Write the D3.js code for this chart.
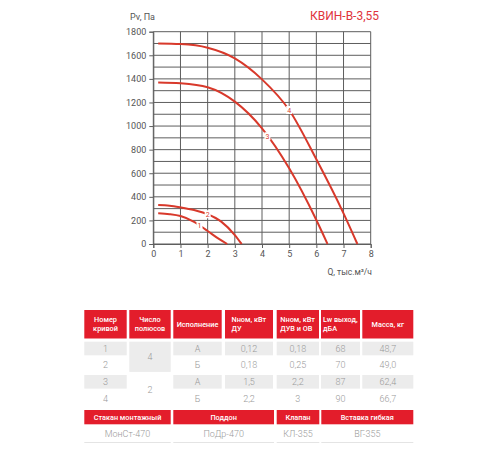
<!DOCTYPE html>
<html><head><meta charset="utf-8">
<script src="https://cdn.jsdelivr.net/npm/d3@7"></script>
<style>body{margin:0;background:#fff}svg{display:block;font-family:Roboto,"Noto Sans",sans-serif}</style>
</head><body><svg id="c" width="500" height="450"></svg>
<script>
// ---- data ----
const curveNames = ["1","2","3","4"];
const curve1 = [[0.18,260],[0.6,253],[1,237],[1.5,188],[2,110],[2.4,45],[2.72,0]];
const curve2 = [[0.18,330],[0.6,325],[1,311],[1.5,288],[2,252],[2.5,190],[3,76],[3.25,0]];
const curve3 = [[0.18,1370],[1,1363],[2,1329],[3,1207],[4,981],[5,642],[6,203],[6.41,0]];
const curve4 = [[0.18,1700],[1,1695],[2,1664],[3,1574],[4,1396],[5,1136],[6,718],[7,260],[7.51,0]];
const labelQ = [1.7, 2.0, 4.2, 5.0];
const xTicks = [0,1,2,3,4,5,6,7,8];
const yTicks = [0,200,400,600,800,1000,1200,1400,1600,1800];
const title = "КВИН-В-3,55";
const yTitle = "Pv, Па";
const xTitle = "Q, тыс.м³/ч";

const headers = ["Номер\nкривой","Число\nполюсов","Исполнение","Nном, кВт\nДУ","Nном, кВт\nДУВ и ОВ","Lw выход,\nдБА","Масса, кг"];
const colCurve = ["1","2","3","4"];
const colPoles = ["4","2"];
const colExec = ["А","Б","А","Б"];
const colNdu = ["0,12","0,18","1,5","2,2"];
const colNduv = ["0,18","0,25","2,2","3"];
const colLw = ["68","70","87","90"];
const colMass = ["48,7","49,0","62,4","66,7"];
const accHeaders = ["Стакан монтажный","Поддон","Клапан","Вставка гибкая"];
const accValues = ["МонСт-470","ПоДр-470","КЛ-355","ВГ-355"];

// ---- chart ----
const svg = d3.select("#c");
const red = "#d8392b";
const x = d3.scaleLinear().domain([0,8]).range([153.3,370.7]);
const y = d3.scaleLinear().domain([0,1800]).range([244,31.7]);
const gridC = "#5e5e5e";

const g = svg.append("g");
g.selectAll(".hg").data(d3.range(0,1801,100)).join("line")
  .attr("x1",x(0)).attr("x2",x(8)).attr("y1",d=>y(d)).attr("y2",d=>y(d))
  .attr("stroke",gridC).attr("stroke-width",1);
g.selectAll(".vg").data(xTicks).join("line")
  .attr("x1",d=>x(d)).attr("x2",d=>x(d)).attr("y1",y(0)).attr("y2",y(1800))
  .attr("stroke",gridC).attr("stroke-width",1);

const xa = svg.append("g").attr("transform",`translate(0,${y(0)})`)
  .call(d3.axisBottom(x).tickValues(xTicks).tickSize(4).tickPadding(3).tickFormat(d3.format("d")));
const ya = svg.append("g").attr("transform",`translate(${x(0)},0)`)
  .call(d3.axisLeft(y).tickValues(yTicks).tickSize(4).tickPadding(3).tickFormat(d3.format("d")));
[xa,ya].forEach(a=>{
  a.select(".domain").attr("stroke",gridC);
  a.selectAll(".tick line").attr("stroke",gridC);
  a.selectAll("text").attr("fill","#555").attr("font-size",9).attr("font-family","'Liberation Sans Narrow',Roboto,sans-serif");
});

const line = d3.line().x(d=>x(d[0])).y(d=>y(d[1])).curve(d3.curveMonotoneX);
const curves = [curve1,curve2,curve3,curve4];
svg.selectAll(".crv").data(curves).join("path")
  .attr("d",line).attr("fill","none").attr("stroke",red).attr("stroke-width",2);

function interp(c,q){
  for(let i=0;i<c.length-1;i++){
    if(q>=c[i][0]&&q<=c[i+1][0]){const t=(q-c[i][0])/(c[i+1][0]-c[i][0]);return c[i][1]+t*(c[i+1][1]-c[i][1]);}
  }
  return c[c.length-1][1];
}
curves.forEach((c,i)=>{
  const px=x(labelQ[i]), py=y(interp(c,labelQ[i]));
  svg.append("rect").attr("x",px-3).attr("y",py-4).attr("width",6).attr("height",8).attr("fill","#fff");
  svg.append("text").attr("x",px).attr("y",py+2.5).attr("text-anchor","middle")
    .attr("font-size",7).attr("fill",red).text(curveNames[i]);
});

svg.append("text").attr("x",130).attr("y",20).attr("font-size",9).attr("fill","#555")
  .attr("font-family","'Liberation Sans Narrow',Roboto,sans-serif").text(yTitle);
svg.append("text").attr("x",372).attr("y",275).attr("text-anchor","end").attr("font-size",8.5).attr("fill","#555")
  .attr("font-family","'Liberation Sans Narrow',Roboto,sans-serif").text(xTitle);
svg.append("text").attr("x",310).attr("y",20).attr("font-size",12).attr("fill","#e0343c").text(title);

// ---- table ----
const tRed = "#e31d2b", tGrey = "#ececec", tText = "#999999";
const cols = [[84.3,126.7],[129.3,170.7],[173.3,221.7],[225,273],[276.7,319],[321,360],[362.3,413.3]];
const hTop=310, hBot=338.5;
cols.forEach((c,i)=>{
  svg.append("rect").attr("x",c[0]).attr("y",hTop).attr("width",c[1]-c[0]).attr("height",hBot-hTop).attr("fill",tRed);
  const lines = headers[i].split("\n");
  const left = (i===3||i===4||i===5);
  const t = svg.append("text").attr("fill","#fff").attr("font-size",7.3).attr("font-weight",500)
    .attr("text-anchor", left?"start":"middle");
  const cx=(c[0]+c[1])/2;
  const cy=(hTop+hBot)/2;
  lines.forEach((l,k)=>{
    t.append("tspan").attr("x",cx).attr("y",cy+2.5+(k-(lines.length-1)/2)*9).text(l);
  });
  if(left){
    const w = t.node().getBBox().width;
    t.selectAll("tspan").attr("x",cx-w/2);
  }
});
const rowTop = [341.7,358.3,375,391.6];
const rowH = 13.6;
const body = [colCurve,null,colExec,colNdu,colNduv,colLw,colMass];
body.forEach((col,ci)=>{
  const c=cols[ci];
  if(col===null){
    colPoles.forEach((v,k)=>{
      const top=rowTop[k*2], bot=rowTop[k*2+1]+rowH;
      if(k===0) svg.append("rect").attr("x",c[0]).attr("y",top).attr("width",c[1]-c[0]).attr("height",bot-top).attr("fill",tGrey);
      svg.append("text").attr("x",(c[0]+c[1])/2).attr("y",(top+bot)/2+3.3).attr("text-anchor","middle")
        .attr("font-size",9).attr("font-weight",300).attr("fill",tText).text(v);
    });
    return;
  }
  col.forEach((v,r)=>{
    if(r%2===0) svg.append("rect").attr("x",c[0]).attr("y",rowTop[r]).attr("width",c[1]-c[0]).attr("height",rowH).attr("fill",tGrey);
    svg.append("text").attr("x",(c[0]+c[1])/2).attr("y",rowTop[r]+rowH/2+3.3).attr("text-anchor","middle")
      .attr("font-size",9).attr("font-weight",300).attr("fill",tText).text(v);
  });
});

const acols = [[84.3,170.7],[173.3,274],[276.7,319.3],[321.3,413.3]];
acols.forEach((c,i)=>{
  svg.append("rect").attr("x",c[0]).attr("y",410).attr("width",c[1]-c[0]).attr("height",14.3).attr("fill",tRed);
  svg.append("text").attr("x",(c[0]+c[1])/2).attr("y",420).attr("text-anchor","middle")
    .attr("fill","#fff").attr("font-size",7.3).attr("font-weight",500).text(accHeaders[i]);
  svg.append("text").attr("x",(c[0]+c[1])/2).attr("y",436.5).attr("text-anchor","middle")
    .attr("fill",tText).attr("font-size",9).attr("font-weight",300).text(accValues[i]);
  svg.append("line").attr("x1",c[0]).attr("x2",c[1]).attr("y1",442.5).attr("y2",442.5).attr("stroke","#e4e4e4").attr("stroke-width",1);
});
</script></body></html>
